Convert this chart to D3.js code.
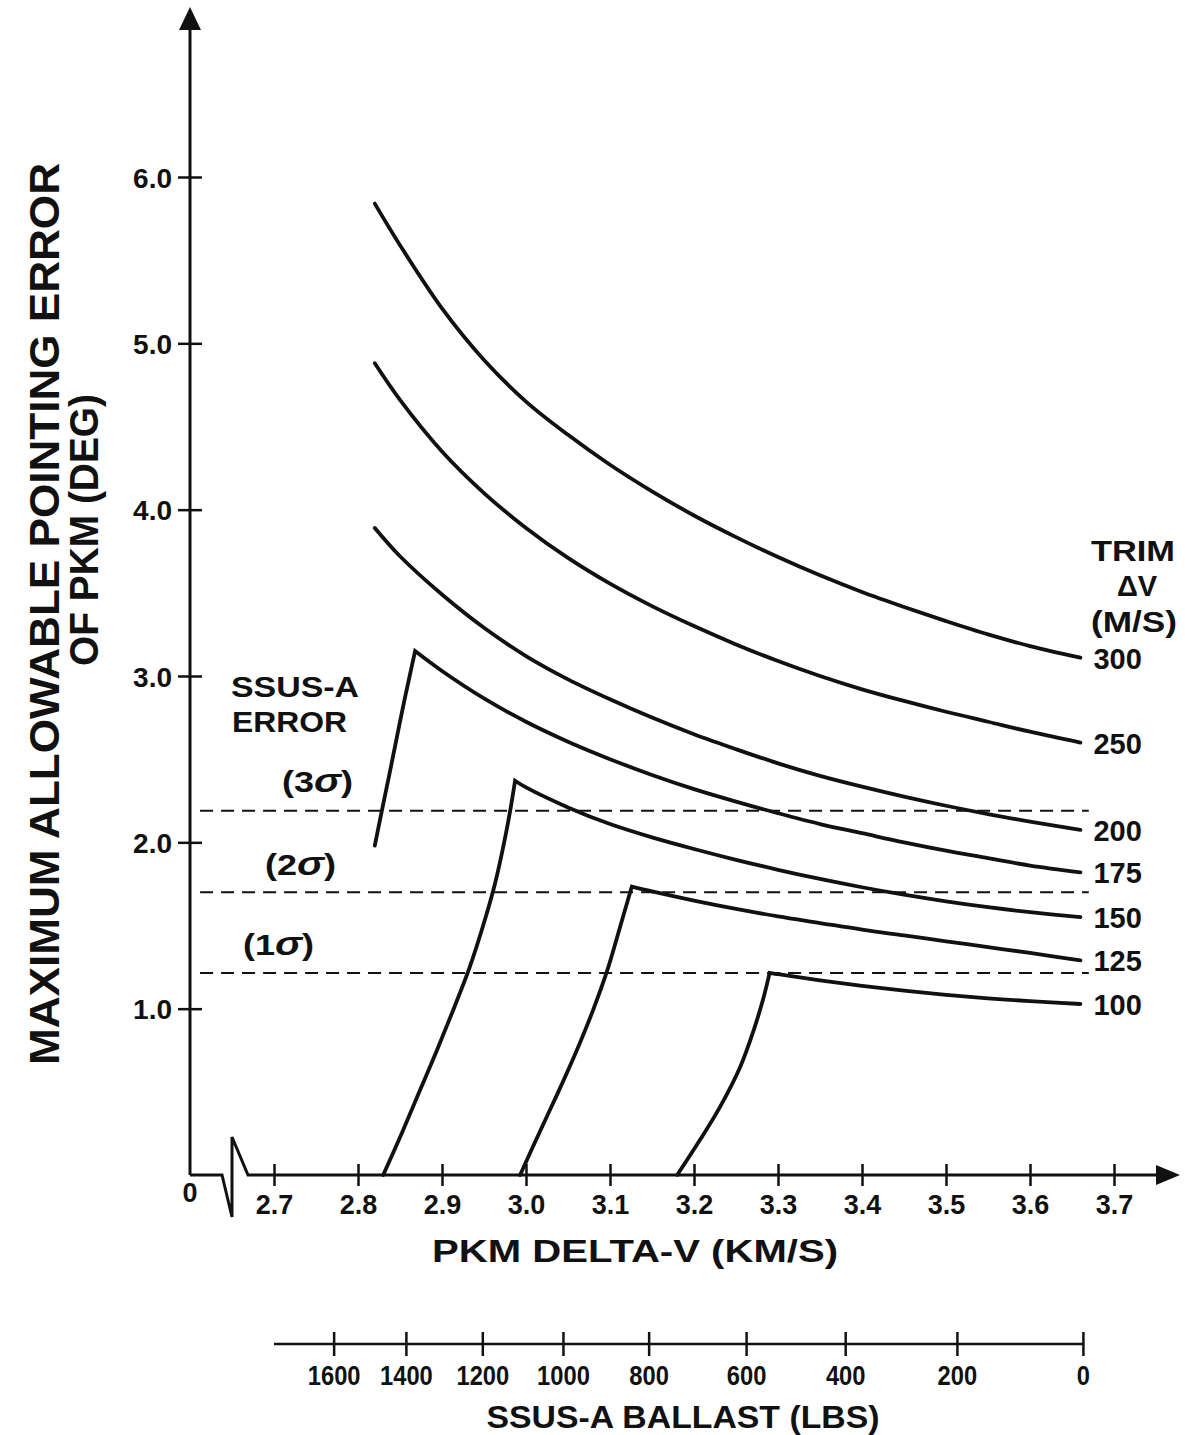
<!DOCTYPE html>
<html><head><meta charset="utf-8">
<script src="https://cdn.jsdelivr.net/npm/d3@7"></script>
<style>
html,body{margin:0;padding:0;background:#fff;}
svg{display:block;background:#fff;}
text{font-family:"Liberation Sans",Arial,Helvetica,sans-serif;font-weight:bold;fill:#111;}
</style></head>
<body>
<svg id="chart" width="1185" height="1435"></svg>
<script>
// ---------- data ----------
const yTicks = [1, 2, 3, 4, 5, 6];
const xTicks = [2.7, 2.8, 2.9, 3.0, 3.1, 3.2, 3.3, 3.4, 3.5, 3.6, 3.7];
const ballastTicks = [1600, 1400, 1200, 1000, 800, 600, 400, 200, 0];
const ballastDeltaV = [2.771, 2.857, 2.948, 3.044, 3.146, 3.262, 3.380, 3.513, 3.663];
const sigmaLevels = [2.19, 1.70, 1.215];
const sigmaNames = ["3", "2", "1"];
const trimLabels = ["300", "250", "200", "175", "150", "125", "100"];

const gridV = [2.82, 2.85, 2.90, 2.95, 3.00, 3.05, 3.10, 3.15, 3.20, 3.25, 3.30, 3.35, 3.40, 3.45, 3.50, 3.55, 3.60, 3.66];
const err300 = [5.84, 5.59, 5.21, 4.90, 4.65, 4.45, 4.27, 4.11, 3.965, 3.835, 3.715, 3.605, 3.505, 3.415, 3.33, 3.25, 3.18, 3.11];
const err250 = [4.88, 4.66, 4.35, 4.10, 3.89, 3.71, 3.555, 3.42, 3.30, 3.19, 3.09, 3.00, 2.92, 2.85, 2.785, 2.725, 2.665, 2.60];
const err200 = [3.89, 3.72, 3.49, 3.29, 3.12, 2.98, 2.86, 2.75, 2.65, 2.56, 2.475, 2.40, 2.335, 2.275, 2.22, 2.17, 2.125, 2.075];

const rise175V = [2.820, 2.8288, 2.837, 2.845, 2.853, 2.8615, 2.868];
const rise175E = [1.98, 2.2, 2.4, 2.6, 2.8, 3.0, 3.15];
const fall175V = [2.868, 2.90, 2.95, 3.00, 3.05, 3.10, 3.15, 3.20, 3.25, 3.30, 3.35, 3.40, 3.45, 3.50, 3.55, 3.60, 3.66];
const fall175E = [3.15, 3.03, 2.865, 2.725, 2.605, 2.50, 2.405, 2.32, 2.245, 2.175, 2.11, 2.055, 2.00, 1.95, 1.905, 1.86, 1.82];

const rise150V = [2.830, 2.852, 2.873, 2.894, 2.914, 2.933, 2.949, 2.963, 2.974, 2.9815, 2.987];
const rise150E = [0, 0.25, 0.5, 0.75, 1.0, 1.25, 1.5, 1.75, 2.0, 2.2, 2.37];
const fall150V = [2.987, 3.00, 3.05, 3.10, 3.15, 3.20, 3.25, 3.30, 3.35, 3.40, 3.45, 3.50, 3.55, 3.60, 3.66];
const fall150E = [2.37, 2.33, 2.21, 2.11, 2.03, 1.96, 1.895, 1.835, 1.78, 1.73, 1.685, 1.645, 1.61, 1.58, 1.55];

const rise125V = [2.993, 3.0155, 3.0385, 3.0605, 3.0805, 3.098, 3.1125, 3.126];
const rise125E = [0, 0.25, 0.5, 0.75, 1.0, 1.25, 1.5, 1.734];
const fall125V = [3.126, 3.15, 3.20, 3.25, 3.30, 3.35, 3.40, 3.45, 3.50, 3.55, 3.60, 3.66];
const fall125E = [1.734, 1.705, 1.65, 1.60, 1.555, 1.515, 1.475, 1.44, 1.405, 1.37, 1.335, 1.29];

const rise100V = [3.180, 3.207, 3.231, 3.255, 3.271, 3.283, 3.290];
const rise100E = [0, 0.21, 0.41, 0.65, 0.87, 1.07, 1.215];
const fall100V = [3.290, 3.30, 3.35, 3.40, 3.45, 3.50, 3.55, 3.60, 3.66];
const fall100E = [1.215, 1.207, 1.17, 1.137, 1.108, 1.083, 1.062, 1.045, 1.028];

// ---------- build ----------
const zip = (a, b) => a.map((v, i) => [v, b[i]]);
const series = [
  {label: trimLabels[0], rise: [], fall: zip(gridV, err300)},
  {label: trimLabels[1], rise: [], fall: zip(gridV, err250)},
  {label: trimLabels[2], rise: [], fall: zip(gridV, err200)},
  {label: trimLabels[3], rise: zip(rise175V, rise175E), fall: zip(fall175V, fall175E)},
  {label: trimLabels[4], rise: zip(rise150V, rise150E), fall: zip(fall150V, fall150E)},
  {label: trimLabels[5], rise: zip(rise125V, rise125E), fall: zip(fall125V, fall125E)},
  {label: trimLabels[6], rise: zip(rise100V, rise100E), fall: zip(fall100V, fall100E)}
];

const svg = d3.select("#chart");
svg.append("rect").attr("width", 1185).attr("height", 1435).attr("fill", "#fff");

const x = d3.scaleLinear().domain([2.7, 3.7]).range([274, 1114]);
const y = d3.scaleLinear().domain([0, 6]).range([1175, 177]);
const axisX0 = 190;
const axisY0 = y(0);
const ink = "#111";

// ---------- Y axis ----------
svg.append("line").attr("x1", axisX0).attr("x2", axisX0)
  .attr("y1", axisY0).attr("y2", 24).attr("stroke", ink).attr("stroke-width", 3);
svg.append("path").attr("d", `M${axisX0},7 L${axisX0 - 11},30 L${axisX0 + 11},30 Z`).attr("fill", ink);

const gy = svg.append("g").attr("transform", `translate(${axisX0},0)`)
  .call(d3.axisLeft(y).tickValues(yTicks).tickSize(12).tickPadding(6).tickFormat(d3.format(".1f")));
gy.select(".domain").remove();
gy.attr("font-family", null).attr("font-size", null);
gy.selectAll(".tick line").attr("stroke", ink).attr("stroke-width", 2.5);
gy.selectAll(".tick").append("line").attr("x1", 0).attr("x2", 12).attr("stroke", ink).attr("stroke-width", 2.5);
gy.selectAll(".tick text").attr("font-size", 28).attr("dy", "0.36em");

// ---------- X axis (with break) ----------
svg.append("path")
  .attr("d", `M${axisX0},${axisY0} L222,${axisY0} L232,${axisY0 + 42} L232,${axisY0 - 38} L248,${axisY0} L${x(3.7) + 46},${axisY0}`)
  .attr("fill", "none").attr("stroke", ink).attr("stroke-width", 3).attr("stroke-linejoin", "miter");
svg.append("path").attr("d", `M${x(3.7) + 66},${axisY0} L${x(3.7) + 42},${axisY0 - 10} L${x(3.7) + 42},${axisY0 + 10} Z`).attr("fill", ink);

const gx = svg.append("g").attr("transform", `translate(0,${axisY0})`)
  .call(d3.axisBottom(x).tickValues(xTicks).tickSize(11).tickPadding(9).tickFormat(d3.format(".1f")));
gx.select(".domain").remove();
gx.attr("font-family", null).attr("font-size", null);
gx.selectAll(".tick line").attr("stroke", ink).attr("stroke-width", 2.5);
gx.selectAll(".tick").append("line").attr("y1", 0).attr("y2", -11).attr("stroke", ink).attr("stroke-width", 2.5);
gx.selectAll(".tick text").attr("font-size", 27);

svg.append("text").attr("x", axisX0).attr("y", axisY0 + 27).attr("text-anchor", "middle").attr("font-size", 27).text("0");

// ---------- Ballast axis ----------
const ballastScale = d3.scaleLinear().domain(ballastTicks).range(ballastDeltaV.map(v => x(v)));
const by = 1344;
svg.append("line").attr("x1", x(2.70)).attr("x2", ballastScale(0)).attr("y1", by).attr("y2", by)
  .attr("stroke", ink).attr("stroke-width", 2.5);
const gb = svg.append("g").attr("transform", `translate(0,${by})`)
  .call(d3.axisBottom(ballastScale).tickValues(ballastTicks).tickSize(12).tickPadding(10).tickFormat(d3.format("d")));
gb.select(".domain").remove();
gb.attr("font-family", null).attr("font-size", null);
gb.selectAll(".tick line").attr("stroke", ink).attr("stroke-width", 2.5);
gb.selectAll(".tick").append("line").attr("y1", 0).attr("y2", -12).attr("stroke", ink).attr("stroke-width", 2.5);
gb.selectAll(".tick text").attr("font-size", 27)
  .attr("textLength", d => String(d).length * 13.2).attr("lengthAdjust", "spacingAndGlyphs");

// ---------- Dashed sigma lines ----------
svg.append("g").selectAll("line").data(sigmaLevels).join("line")
  .attr("x1", x(2.612)).attr("x2", x(3.67))
  .attr("y1", d => y(d)).attr("y2", d => y(d))
  .attr("stroke", ink).attr("stroke-width", 2).attr("stroke-dasharray", "13,8");

// ---------- Curves ----------
const line = d3.line().x(d => x(d[0])).y(d => y(d[1])).curve(d3.curveCatmullRom.alpha(0.5));
svg.append("g").selectAll("path").data(series).join("path")
  .attr("d", s => {
    const f = line(s.fall);
    if (!s.rise.length) return f;
    return line(s.rise) + "L" + f.slice(1);
  })
  .attr("fill", "none").attr("stroke", ink).attr("stroke-width", 3.8)
  .attr("stroke-linecap", "round").attr("stroke-linejoin", "miter");

// Trim labels at curve ends
svg.append("g").selectAll("text").data(series).join("text")
  .attr("x", s => x(s.fall[s.fall.length - 1][0]) + 13)
  .attr("y", s => y(s.fall[s.fall.length - 1][1]))
  .attr("dy", "0.38em").attr("font-size", 29).text(s => s.label);

// ---------- Annotation text ----------
const fitText = (sel, len) => sel.attr("textLength", len).attr("lengthAdjust", "spacingAndGlyphs");

fitText(svg.append("text").attr("x", 1091).attr("y", 561).attr("font-size", 29).text("TRIM"), 84);
svg.append("text").attr("x", 1137).attr("y", 596).attr("text-anchor", "middle").attr("font-size", 29).text("ΔV");
fitText(svg.append("text").attr("x", 1091).attr("y", 632).attr("font-size", 29).text("(M/S)"), 86);

fitText(svg.append("text").attr("x", 231).attr("y", 697).attr("font-size", 29).text("SSUS-A"), 128);
fitText(svg.append("text").attr("x", 232).attr("y", 732).attr("font-size", 29).text("ERROR"), 115);

const sigmaX = [282, 265, 243];
const sigmaY = [792, 875, 955];
sigmaLevels.forEach((lv, i) => {
  const t = svg.append("text").attr("x", sigmaX[i]).attr("y", sigmaY[i]).attr("font-size", 30);
  t.append("tspan").text("(" + sigmaNames[i]);
  t.append("tspan").attr("font-style", "italic").attr("font-size", 34).text("σ");
  t.append("tspan").text(")");
  fitText(t, 71);
});

// Axis titles
fitText(svg.append("text").attr("x", 635).attr("y", 1262).attr("text-anchor", "middle").attr("font-size", 32)
  .text("PKM DELTA-V (KM/S)"), 406);
fitText(svg.append("text").attr("x", 683).attr("y", 1428).attr("text-anchor", "middle").attr("font-size", 32)
  .text("SSUS-A BALLAST (LBS)"), 393);

fitText(svg.append("text").attr("transform", "translate(59,614) rotate(-90)").attr("text-anchor", "middle")
  .attr("font-size", 43).text("MAXIMUM ALLOWABLE POINTING ERROR"), 902);
fitText(svg.append("text").attr("transform", "translate(98,530) rotate(-90)").attr("text-anchor", "middle")
  .attr("font-size", 40).text("OF PKM (DEG)"), 272);
</script>
</body></html>
